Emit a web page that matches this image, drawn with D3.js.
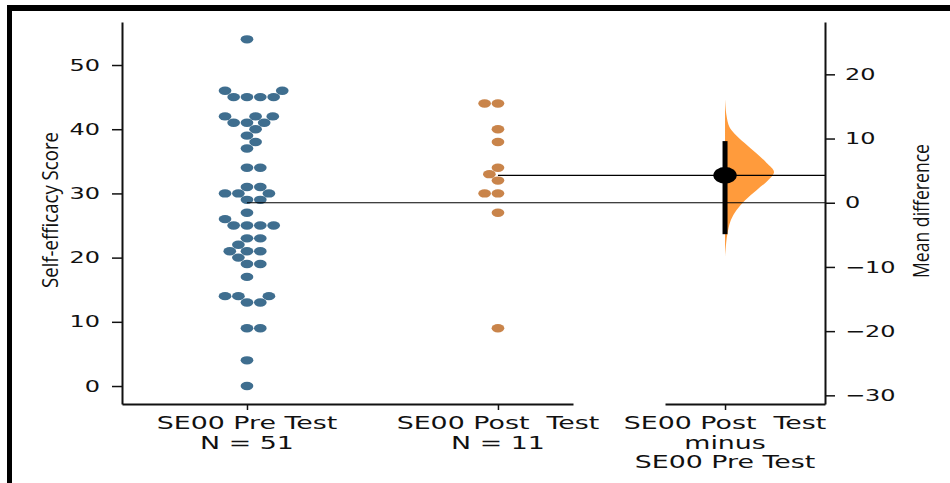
<!DOCTYPE html>
<html>
<head>
<meta charset="utf-8">
<script src="https://cdn.jsdelivr.net/npm/d3@7"></script>
<style>
  body { margin: 0; background: #fff; }
  svg { display: block; }
</style>
</head>
<body>
<svg id="chart" width="950" height="483"></svg>
<script>
// values
const groups = ["SE00 Pre Test", "SE00 Post  Test"];
const preScores = [0, 4, 9, 9, 13, 13, 14, 14, 14, 17, 19, 19, 20, 21, 21, 21, 22, 23, 23,
    25, 25, 25, 25, 26, 27, 29, 29, 30, 30, 30, 31, 31, 34, 34, 37, 38, 39, 40,
    41, 41, 41, 42, 42, 42, 45, 45, 45, 45, 46, 46, 54];
const postScores = [9, 27, 30, 30, 32, 33, 34, 38, 40, 44, 44];
const leftTicks = [0, 10, 20, 30, 40, 50];
const rightTicks = [-30, -20, -10, 0, 10, 20];
const diffCI = [-4.9, 9.6];
// bootstrap distribution of the mean difference (outline)
const bootDiff = [16.2, 13.6, 11.8, 10.8, 9.3, 7.7, 6.2, 4.8, 3.5, 2.0, 0.4, -1.1, -2.7, -4.2, -5.8, -8.4];
const bootDensity = [0, 0.03, 0.09, 0.19, 0.40, 0.64, 0.85, 1.0, 0.88, 0.65, 0.41, 0.24, 0.12, 0.065, 0.03, 0];

const colors = ["#3f6e8f", "#c9844a"];
const violinColor = "#ff9b3c";

const svg = d3.select('#chart');

const preMean = d3.mean(preScores);
const postMean = d3.mean(postScores);
const meanDiff = postMean - preMean;

// scales
const yDomain = [-2.8, 56.7];
const yL = d3.scaleLinear().domain(yDomain).range([404, 22]);
const yR = d3.scaleLinear().domain(yDomain.map(v => v - preMean)).range([404, 22]);
const xL = d3.scaleLinear().domain([-0.498, 1.299]).range([122, 573]);
const xR = d3.scaleLinear().domain([-0.239, 0.398]).range([665, 825]);
const stretch = 1.5;

// seaborn-like beeswarm on ellipses (rx, ry)
function swarm(values, cx, y, rx, ry, tieSide) {
    const k = rx / ry, d = 2 * ry;
    const pts = values.map(v => ({ v: v, y: y(v) })).sort((a, b) => b.y - a.y);
    const placed = [];
    pts.forEach(p => {
        const near = placed.filter(q => Math.abs(p.y - q.y) < d);
        const cands = [0];
        near.forEach(q => {
            const dx = Math.sqrt(Math.max(d * d - (p.y - q.y) ** 2, 0)) * 1.05;
            cands.push(q.u - dx, q.u + dx);
        });
        cands.sort((a, b) => {
            const t = Math.abs(a) - Math.abs(b);
            return Math.abs(t) > 1e-6 ? t : tieSide * (b - a);
        });
        const ok = cands.find(u => near.every(q => (u - q.u) ** 2 + (p.y - q.y) ** 2 >= d * d - 1e-6));
        p.u = ok === undefined ? cands[cands.length - 1] : ok;
        placed.push(p);
    });
    return placed.map(p => ({ v: p.v, x: cx + p.u * k, y: p.y }));
}

// frame
svg.append('rect').attr('x', 7).attr('y', 5).attr('width', 943).attr('height', 6).attr('fill', '#000');
svg.append('rect').attr('x', 7).attr('y', 5).attr('width', 5).attr('height', 478).attr('fill', '#000');

// bootstrap half-violin
const boot = bootDiff.map((d, i) => ({ diff: d, dens: bootDensity[i] }));
const area = d3.area()
    .y(d => yR(d.diff))
    .x0(xR(0))
    .x1(d => xR(0.195 * d.dens))
    .curve(d3.curveCatmullRom);
svg.append('path').datum(boot)
    .attr('d', area)
    .attr('fill', violinColor);

// swarms
[preScores, postScores].forEach((vals, i) => {
    const pts = swarm(vals, xL(i), yL, 6.35, 4.2, i === 0 ? 1 : -1);
    svg.append('g').selectAll('ellipse')
        .data(pts)
        .enter().append('ellipse')
        .attr('cx', d => d.x)
        .attr('cy', d => d.y)
        .attr('rx', 6.35)
        .attr('ry', 4.2)
        .attr('fill', colors[i]);
});

// mean reference lines
svg.append('line')
    .attr('x1', xL(0)).attr('x2', xR.range()[1])
    .attr('y1', yL(preMean)).attr('y2', yL(preMean))
    .attr('stroke', '#000').attr('stroke-width', 1.2);
svg.append('line')
    .attr('x1', xL(1)).attr('x2', xR.range()[1])
    .attr('y1', yL(postMean)).attr('y2', yL(postMean))
    .attr('stroke', '#000').attr('stroke-width', 1.2);

// CI bar and mean difference
svg.append('line')
    .attr('x1', xR(0)).attr('x2', xR(0))
    .attr('y1', yR(diffCI[0])).attr('y2', yR(diffCI[1]))
    .attr('stroke', '#000').attr('stroke-width', 5);
svg.append('ellipse')
    .attr('cx', xR(0)).attr('cy', yR(meanDiff))
    .attr('rx', 11.7).attr('ry', 8.3)
    .attr('fill', '#000');

// axes
function styleAxis(g, size) {
    g.select('.domain').attr('stroke', '#111').attr('stroke-width', 2);
    g.selectAll('.tick line').attr('stroke', '#111').attr('stroke-width', 1.5);
    g.selectAll('.tick text')
        .attr('font-family', 'DejaVu Sans')
        .attr('font-size', size)
        .attr('fill', '#111')
        .attr('transform', function () {
            return `translate(${+this.getAttribute('x') || 0},0) scale(${stretch},1)`;
        })
        .attr('x', 0);
}

svg.append('g')
    .attr('transform', `translate(${xL.range()[0]},0)`)
    .call(d3.axisLeft(yL).tickValues(leftTicks).tickSize(10).tickPadding(12).tickSizeOuter(0))
    .call(g => styleAxis(g, 16));

svg.append('g')
    .attr('transform', `translate(${xR.range()[1]},0)`)
    .call(d3.axisRight(yR).tickValues(rightTicks).tickSize(10).tickPadding(10).tickSizeOuter(0))
    .call(g => styleAxis(g, 16));

svg.append('g')
    .attr('transform', 'translate(0,404)')
    .call(d3.axisBottom(xL).tickValues([0, 1]).tickSize(6).tickSizeOuter(0).tickFormat(''))
    .call(g => styleAxis(g, 16));

svg.append('g')
    .attr('transform', 'translate(0,404)')
    .call(d3.axisBottom(xR).tickValues([0]).tickSize(6).tickSizeOuter(0).tickFormat(''))
    .call(g => styleAxis(g, 16));

// category labels
const xLabels = [
    { x: xL(0), lines: [groups[0], 'N = ' + preScores.length] },
    { x: xL(1), lines: [groups[1], 'N = ' + postScores.length] },
    { x: xR(0), lines: [groups[1], 'minus', groups[0]] }
];
xLabels.forEach(lab => {
    const t = svg.append('text')
        .attr('transform', `translate(${lab.x},429) scale(${stretch},1)`)
        .attr('text-anchor', 'middle')
        .attr('font-family', 'DejaVu Sans')
        .attr('font-size', 17.9)
        .attr('fill', '#111')
        .style('white-space', 'pre');
    lab.lines.forEach((s, i) => {
        t.append('tspan').attr('x', 0).attr('y', i * 19.6).text(s);
    });
});

// axis titles
svg.append('text')
    .attr('transform', 'translate(58,210) rotate(-90)')
    .attr('text-anchor', 'middle')
    .attr('font-family', 'Open Sans')
    .attr('font-size', 21)
    .attr('textLength', 156)
    .attr('lengthAdjust', 'spacingAndGlyphs')
    .attr('fill', '#111')
    .text('Self-efficacy Score');

svg.append('text')
    .attr('transform', 'translate(929,211) rotate(-90)')
    .attr('text-anchor', 'middle')
    .attr('font-family', 'Open Sans')
    .attr('font-size', 21)
    .attr('textLength', 134)
    .attr('lengthAdjust', 'spacingAndGlyphs')
    .attr('fill', '#111')
    .text('Mean difference');
</script>
</body>
</html>
